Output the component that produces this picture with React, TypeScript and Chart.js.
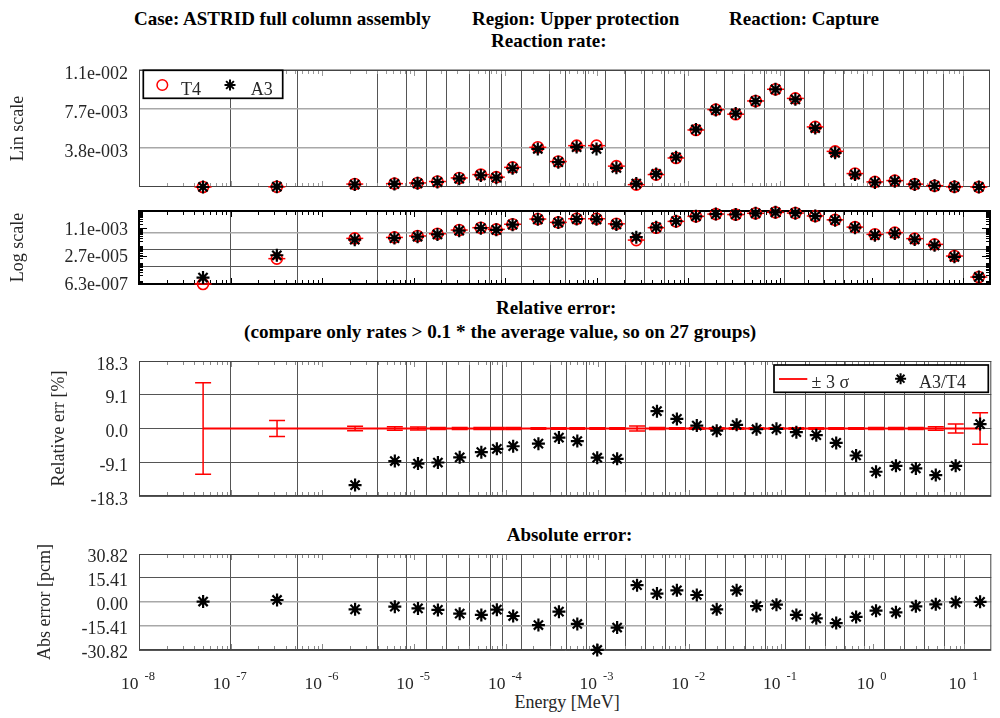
import React, { useEffect, useRef } from "react";
import { Chart, registerables } from "chart.js";
Chart.register(...registerables);

const FONT = "'Liberation Serif', 'Times New Roman', serif";

// ECCO-33 group boundaries (MeV), inner edges -> vertical grid lines
const GROUP_BOUNDS = [
  1e-7, 5.4e-7, 4e-6, 8.315287e-6, 1.370959e-5, 2.260329e-5, 4.0169e-5, 6.790405e-5,
  9.166088e-5, 1.486254e-4, 3.043248e-4, 4.539993e-4, 7.485183e-4, 1.234098e-3,
  2.034684e-3, 3.354626e-3, 5.530844e-3, 9.11882e-3, 1.503439e-2, 2.478752e-2,
  4.086771e-2, 6.737947e-2, 1.1109e-1, 1.831564e-1, 3.019738e-1, 4.978707e-1,
  8.2085e-1, 1.353353, 2.231302, 3.678794, 6.065307, 10,
];
const X_MIN = 1e-8;
const X_MAX = 19.64033;

// group mid energies (MeV)
const ENERGY = [
  5.0005e-8, 3.2e-7, 2.27e-6, 6.158e-6, 1.1012e-5, 1.8156e-5, 3.1386e-5, 5.4037e-5,
  7.978e-5, 1.2014e-4, 2.2648e-4, 3.7916e-4, 6.0126e-4, 9.913e-4, 1.6344e-3, 2.6947e-3,
  4.4427e-3, 7.3248e-3, 1.2077e-2, 1.9911e-2, 3.2828e-2, 5.4124e-2, 8.9234e-2, 1.4712e-1,
  2.4257e-1, 3.9992e-1, 6.5936e-1, 1.0871, 1.7923, 2.955, 4.8721, 8.0327, 14.82,
];

const RATE_T4 = [
  6.3e-7, 1.9e-5, 2.9e-4, 3.3e-4, 4.0e-4, 5.4e-4, 8.9e-4, 1.22e-3,
  9.7e-4, 1.93e-3, 3.9e-3, 2.5e-3, 4.06e-3, 4.06e-3, 2.05e-3, 2.3e-4,
  1.22e-3, 2.85e-3, 5.6e-3, 7.6e-3, 7.15e-3, 8.45e-3, 9.6e-3, 8.7e-3,
  5.9e-3, 3.5e-3, 1.32e-3, 5.0e-4, 6.3e-4, 2.8e-4, 1.3e-4, 2.7e-5, 1.6e-6,
];
const RATE_A3 = [
  1.5e-6, 3.0e-5, 2.45e-4, 3.0e-4, 3.62e-4, 4.9e-4, 8.2e-4, 1.14e-3,
  9.17e-4, 1.84e-3, 3.74e-3, 2.44e-3, 3.92e-3, 3.74e-3, 1.88e-3, 3.4e-4,
  1.28e-3, 2.92e-3, 5.65e-3, 7.55e-3, 7.22e-3, 8.43e-3, 9.59e-3, 8.61e-3,
  5.79e-3, 3.36e-3, 1.22e-3, 4.42e-4, 5.66e-4, 2.5e-4, 1.14e-4, 2.43e-5, 1.62e-6,
];
// A3/T4 relative error [%] (null = group not compared)
const REL_ERR = [
  null, null, -15.3, -8.8, -9.5, -9.2, -7.8, -6.4,
  -5.5, -4.8, -4.1, -2.45, -3.4, -7.9, -8.2, null,
  4.7, 2.6, 0.8, -0.6, 1.0, -0.2, -0.1, -1.0,
  -1.8, -3.9, -7.3, -11.7, -10.1, -10.8, -12.6, -10.1, 1.2,
];
// +/- 3 sigma [%]
const SIGMA3 = [
  12.35, 2.15, 0.6, 0.5, 0.4, 0.3, 0.3, 0.3,
  0.3, 0.3, 0.2, 0.2, 0.2, 0.2, 0.2, 0.7,
  0.3, 0.2, 0.2, 0.2, 0.2, 0.2, 0.2, 0.2,
  0.2, 0.2, 0.2, 0.3, 0.3, 0.3, 0.5, 1.25, 4.25,
];
// absolute error [pcm]
const ABS_ERR = [
  0.3, 1.3, -4.7, -3.0, -4.1, -5.1, -7.5, -8.3,
  -4.9, -9.0, -14.8, -6.2, -14.1, -30.8, -16.4, 10.8,
  5.4, 7.5, 4.5, -4.7, 7.5, -2.6, -1.7, -8.3,
  -10.5, -13.5, -9.6, -5.6, -6.6, -2.8, -1.5, -0.2, 0.1,
];

const LIN_TICKS = [3.83e-3, 7.66e-3, 1.149e-2];
const LIN_LABELS = ["3.8e-003", "7.7e-003", "1.1e-002"];
const LOG_TICKS = [6.3e-7, 2.7e-5, 1.1e-3];
const LOG_LABELS = ["6.3e-007", "2.7e-005", "1.1e-003"];
const LOG_GRID = [6.3e-6, 6.3e-5, 6.3e-4];
const REL_TICKS = [-18.26, -9.13, 0, 9.13, 18.26];
const REL_LABELS = ["-18.3", "-9.1", "0.0", "9.1", "18.3"];
const ABS_TICKS = [-30.82, -15.41, 0, 15.41, 30.82];
const ABS_LABELS = ["-30.82", "-15.41", "0.00", "15.41", "30.82"];
const DECADE_EXP = [-8, -7, -6, -5, -4, -3, -2, -1, 0, 1];

const PLOT_L = 139;
const RED = "#ff0000";
const TXT = "#262626";
const DARK_GRID = "#555555";
const LIGHT_GRID = "#a8a8a8";

function pts(vals: (number | null)[]) {
  const out: { x: number; y: number }[] = [];
  vals.forEach((v, i) => {
    if (v !== null && v !== undefined) out.push({ x: ENERGY[i], y: v });
  });
  return out;
}

function drawStar(ctx: CanvasRenderingContext2D, x: number, y: number, r: number) {
  ctx.beginPath();
  ctx.moveTo(x - r, y); ctx.lineTo(x + r, y);
  ctx.moveTo(x, y - r); ctx.lineTo(x, y + r);
  const d = r * Math.SQRT1_2;
  ctx.moveTo(x - d, y - d); ctx.lineTo(x + d, y + d);
  ctx.moveTo(x - d, y + d); ctx.lineTo(x + d, y - d);
  ctx.stroke();
}

const framePlugin = {
  id: "frame",
  beforeDatasetsDraw(chart: any, _a: any, opts: any) {
    const { ctx, chartArea: a } = chart;
    const xs = chart.scales.x;
    ctx.save();
    ctx.strokeStyle = opts.tickColor || "#777";
    ctx.lineWidth = 1;
    ctx.beginPath();
    DECADE_EXP.forEach((e) => {
      for (let k = 1; k <= 9; k++) {
        const v = k * Math.pow(10, e);
        if (v < X_MIN || v > X_MAX) continue;
        const px = Math.round(xs.getPixelForValue(v)) + 0.5;
        const len = k === 1 ? 6 : 4;
        ctx.moveTo(px, a.top); ctx.lineTo(px, a.top + len);
        ctx.moveTo(px, a.bottom); ctx.lineTo(px, a.bottom - len);
      }
    });
    ctx.stroke();
    if (opts.yMinor) {
      const ys = chart.scales.y;
      ctx.strokeStyle = "#000";
      ctx.beginPath();
      for (let e = -7; e <= -2; e++) {
        for (let k = 1; k <= 9; k++) {
          const v = k * Math.pow(10, e);
          if (v < ys.min || v > ys.max) continue;
          const py = Math.round(ys.getPixelForValue(v)) + 0.5;
          const len = 4;
          ctx.moveTo(a.left, py); ctx.lineTo(a.left + len, py);
          ctx.moveTo(a.right, py); ctx.lineTo(a.right - len, py);
        }
      }
      (opts.yMajor || []).forEach((v: number) => {
        const py = Math.round(ys.getPixelForValue(v)) + 0.5;
        ctx.moveTo(a.left, py); ctx.lineTo(a.left + 8, py);
        ctx.moveTo(a.right, py); ctx.lineTo(a.right - 8, py);
      });
      ctx.stroke();
    }
    ctx.strokeStyle = opts.color || "#333";
    ctx.lineWidth = opts.width || 1;
    const o = (opts.width || 1) % 2 ? 0.5 : 0;
    ctx.strokeRect(a.left + o, a.top + o, a.right - a.left - 2 * o, a.bottom - a.top - 2 * o);
    ctx.restore();
  },
};

const errorBarPlugin = {
  id: "errorBars",
  beforeDatasetsDraw(chart: any) {
    const { ctx } = chart;
    const xs = chart.scales.x;
    const ys = chart.scales.y;
    const y0 = ys.getPixelForValue(0);
    ctx.save();
    ctx.strokeStyle = RED;
    ctx.lineWidth = 1.8;
    ctx.beginPath();
    ENERGY.forEach((e, i) => {
      const x = xs.getPixelForValue(e);
      if (i === 0) ctx.moveTo(x, y0); else ctx.lineTo(x, y0);
    });
    ctx.stroke();
    ctx.lineWidth = 1.5;
    ctx.beginPath();
    ENERGY.forEach((e, i) => {
      const x = xs.getPixelForValue(e);
      const yt = ys.getPixelForValue(SIGMA3[i]);
      const yb = ys.getPixelForValue(-SIGMA3[i]);
      ctx.moveTo(x, yt); ctx.lineTo(x, yb);
      ctx.moveTo(x - 8, yt); ctx.lineTo(x + 8, yt);
      ctx.moveTo(x - 8, yb); ctx.lineTo(x + 8, yb);
    });
    ctx.stroke();
    ctx.restore();
  },
};

const rateLegend = {
  id: "rateLegend",
  afterDraw(chart: any) {
    const { ctx, chartArea: a } = chart;
    const L = a.left, T = a.top;
    ctx.save();
    ctx.fillStyle = "#fff";
    ctx.fillRect(L + 4.3, T + 0.3, 139.4, 28);
    ctx.strokeStyle = "#000";
    ctx.lineWidth = 1.7;
    ctx.strokeRect(L + 4.3, T + 0.3, 139.4, 28);
    ctx.strokeStyle = RED;
    ctx.lineWidth = 1.5;
    ctx.beginPath();
    ctx.arc(L + 23.3, T + 15, 5.3, 0, Math.PI * 2);
    ctx.stroke();
    ctx.strokeStyle = "#000";
    ctx.lineWidth = 2;
    drawStar(ctx, L + 91, T + 15, 5.5);
    ctx.fillStyle = TXT;
    ctx.font = `18px ${FONT}`;
    ctx.textBaseline = "alphabetic";
    ctx.fillText("T4", L + 42, T + 25);
    ctx.fillText("A3", L + 111.7, T + 25);
    ctx.restore();
  },
};

const relLegend = {
  id: "relLegend",
  afterDraw(chart: any) {
    const { ctx, chartArea: a } = chart;
    const R = a.right, T = a.top;
    ctx.save();
    ctx.fillStyle = "#fff";
    ctx.fillRect(R - 217.3, T + 4, 214.3, 27.3);
    ctx.strokeStyle = "#000";
    ctx.lineWidth = 1.7;
    ctx.strokeRect(R - 217.3, T + 4, 214.3, 27.3);
    ctx.strokeStyle = RED;
    ctx.lineWidth = 1.8;
    ctx.beginPath();
    ctx.moveTo(R - 212.3, T + 18); ctx.lineTo(R - 184, T + 18);
    ctx.stroke();
    ctx.strokeStyle = "#000";
    ctx.lineWidth = 2;
    drawStar(ctx, R - 90.7, T + 17.7, 5.5);
    ctx.fillStyle = TXT;
    ctx.font = `18px ${FONT}`;
    ctx.textBaseline = "alphabetic";
    ctx.fillText("\u00b1 3 \u03c3", R - 179.7, T + 26.7);
    ctx.fillText("A3/T4", R - 72.3, T + 26.7);
    ctx.restore();
  },
};

const decadeLabels = {
  id: "decadeLabels",
  afterDraw(chart: any) {
    const { ctx, chartArea: a } = chart;
    const xs = chart.scales.x;
    ctx.save();
    ctx.fillStyle = TXT;
    ctx.textBaseline = "alphabetic";
    DECADE_EXP.forEach((e) => {
      const px = xs.getPixelForValue(Math.pow(10, e));
      ctx.font = `17.5px ${FONT}`;
      const wb = ctx.measureText("10").width;
      ctx.font = `12.5px ${FONT}`;
      const sup = String(e);
      const ws = ctx.measureText(sup).width;
      const gap = 6;
      const x0 = px - 1 - (wb + gap + ws) / 2;
      ctx.font = `17.5px ${FONT}`;
      ctx.fillText("10", x0, a.bottom + 39);
      ctx.font = `12.5px ${FONT}`;
      ctx.fillText(sup, x0 + wb + gap, a.bottom + 30);
    });
    ctx.restore();
  },
};

function xScale() {
  return {
    type: "logarithmic",
    min: X_MIN,
    max: X_MAX,
    position: "bottom",
    afterBuildTicks: (s: any) => {
      s.ticks = GROUP_BOUNDS.map((v) => ({ value: v }));
    },
    afterFit: (s: any) => {
      s.height = 0;
      s.paddingLeft = 0;
      s.paddingRight = 0;
    },
    ticks: { display: false },
    grid: { color: DARK_GRID, lineWidth: 1, drawTicks: false },
    border: { display: false },
  };
}

type TickItem = { v: number; lab: string; grid: boolean };

function yScale(p: {
  type: string; min: number; max: number; ticks: number[]; labels: string[];
  gridOnly?: number[]; labelGrid: boolean;
  title: string; titlePad: number; labelOffset: number;
  gridStyle: (v: number) => [string, number];
}) {
  const all: TickItem[] = [
    ...p.ticks.map((v, i) => ({ v, lab: p.labels[i], grid: p.labelGrid })),
    ...(p.gridOnly || []).map((v) => ({ v, lab: "", grid: true })),
  ].sort((a, b) => a.v - b.v);
  return {
    type: p.type,
    min: p.min,
    max: p.max,
    position: "left",
    afterBuildTicks: (s: any) => {
      s.ticks = all.map((o) => ({ value: o.v }));
    },
    afterFit: (s: any) => {
      s.width = PLOT_L;
      s.paddingTop = 0;
      s.paddingBottom = 0;
    },
    ticks: {
      autoSkip: false,
      padding: 11,
      labelOffset: p.labelOffset,
      color: TXT,
      font: { family: FONT, size: 18 },
      callback: (_v: any, i: number) => all[i].lab,
    },
    grid: {
      drawTicks: false,
      color: (c: any) => (all[c.index] && all[c.index].grid ? p.gridStyle(all[c.index].v)[0] : "rgba(0,0,0,0)"),
      lineWidth: (c: any) => (all[c.index] ? p.gridStyle(all[c.index].v)[1] : 1),
    },
    border: { display: false },
    title: {
      display: true,
      text: p.title,
      color: TXT,
      font: { family: FONT, size: 18 },
      padding: { top: p.titlePad, bottom: 0 },
    },
  };
}

const starSet = (data: any[]) => ({
  label: "A3",
  data,
  order: 0,
  clip: false,
  pointStyle: "star",
  pointRadius: 6.5,
  pointBorderWidth: 2.2,
  pointBorderColor: "#000",
  pointBackgroundColor: "#000",
});

function rateSets() {
  return [
    starSet(pts(RATE_A3)),
    {
      label: "T4dash",
      data: pts(RATE_T4),
      order: 1,
      clip: false,
      pointStyle: "line",
      pointRadius: 8.5,
      pointBorderWidth: 1.5,
      pointBorderColor: RED,
      pointBackgroundColor: RED,
    },
    {
      label: "T4",
      data: pts(RATE_T4),
      order: 2,
      clip: false,
      pointStyle: "circle",
      pointRadius: 5.5,
      pointBorderWidth: 1.6,
      pointBorderColor: RED,
      pointBackgroundColor: "rgba(0,0,0,0)",
    },
  ];
}

function baseConfig(datasets: any[], y: any, pad: { top: number; bottom: number }, plugins: any[], frame: any) {
  return {
    type: "scatter",
    data: { datasets },
    options: {
      responsive: false,
      maintainAspectRatio: false,
      animation: false,
      events: [],
      layout: { padding: { left: 0, right: 1, top: pad.top, bottom: pad.bottom } },
      scales: { x: xScale(), y },
      plugins: {
        legend: { display: false },
        tooltip: { enabled: false },
        title: { display: false },
        frame,
      },
    },
    plugins: [framePlugin, ...plugins],
  } as any;
}

const Txt = (p: { x: number; base: number; size: number; bold?: boolean; children: any }) => (
  <div
    style={{
      position: "absolute",
      left: p.x,
      top: p.base - 0.8375 * p.size,
      font: `${p.bold ? "bold " : ""}${p.size}px ${FONT}`,
      lineHeight: `${p.size}px`,
      whiteSpace: "pre",
      color: p.bold ? "#000" : TXT,
    }}
  >
    {p.children}
  </div>
);

export default function App() {
  const c1 = useRef<HTMLCanvasElement>(null);
  const c2 = useRef<HTMLCanvasElement>(null);
  const c3 = useRef<HTMLCanvasElement>(null);
  const c4 = useRef<HTMLCanvasElement>(null);

  useEffect(() => {
    Chart.defaults.font.family = FONT;
    const lin = new Chart(
      c1.current!,
      baseConfig(
        rateSets(),
        yScale({
          type: "linear", min: 0, max: 1.149e-2, ticks: LIN_TICKS, labels: LIN_LABELS, labelGrid: true,
          title: "Lin scale", titlePad: 7.5, labelOffset: 4,
          gridStyle: () => [LIGHT_GRID, 1.5],
        }),
        { top: 20, bottom: 23 },
        [rateLegend],
        { color: "#444", width: 1, tickColor: "#999" }
      )
    );
    const log = new Chart(
      c2.current!,
      baseConfig(
        rateSets(),
        yScale({
          type: "logarithmic", min: 6.3e-7, max: 1.149e-2, ticks: LOG_TICKS, labels: LOG_LABELS,
          gridOnly: LOG_GRID, labelGrid: false,
          title: "Log scale", titlePad: 7.5, labelOffset: 1.5,
          gridStyle: (v) => (v > 1e-4 ? [LIGHT_GRID, 1.5] : [DARK_GRID, 1]),
        }),
        { top: 16, bottom: 16 },
        [],
        { color: "#000", width: 2, tickColor: "#000", yMinor: true, yMajor: LOG_TICKS }
      )
    );
    const rel = new Chart(
      c3.current!,
      baseConfig(
        [starSet(pts(REL_ERR))],
        yScale({
          type: "linear", min: -18.26, max: 18.26, ticks: REL_TICKS, labels: REL_LABELS, labelGrid: true,
          title: "Relative err [%]", titlePad: 48, labelOffset: 4,
          gridStyle: () => [DARK_GRID, 1],
        }),
        { top: 16, bottom: 19 },
        [errorBarPlugin, relLegend],
        { color: "#444", width: 1, tickColor: "#888" }
      )
    );
    const abs = new Chart(
      c4.current!,
      baseConfig(
        [starSet(pts(ABS_ERR))],
        yScale({
          type: "linear", min: -30.82, max: 30.82, ticks: ABS_TICKS, labels: ABS_LABELS, labelGrid: true,
          title: "Abs error [pcm]", titlePad: 34.7, labelOffset: 3.5,
          gridStyle: (v) => (v < 1 && v > -20 ? [LIGHT_GRID, 1.5] : [DARK_GRID, 1]),
        }),
        { top: 19, bottom: 68 },
        [decadeLabels],
        { color: "#444", width: 1, tickColor: "#888" }
      )
    );
    return () => {
      lin.destroy();
      log.destroy();
      rel.destroy();
      abs.destroy();
    };
  }, []);

  const cv = (top: number, h: number) => ({
    position: "absolute" as const,
    left: 0,
    top,
    width: 1000,
    height: h,
  });

  return (
    <div style={{ position: "absolute", left: 0, top: 0, width: 1000, height: 718, background: "#fff", overflow: "hidden" }}>
      <Txt x={134} base={25} size={19} bold>Case: ASTRID full column assembly</Txt>
      <Txt x={472} base={25} size={19} bold>Region: Upper protection</Txt>
      <Txt x={729} base={25} size={19} bold>Reaction: Capture</Txt>
      <Txt x={491} base={46.5} size={19} bold>Reaction rate:</Txt>
      <Txt x={496} base={314} size={19} bold>Relative error:</Txt>
      <Txt x={244} base={338} size={19.2} bold>(compare only rates &gt; 0.1 * the average value, so on 27 groups)</Txt>
      <Txt x={506.7} base={541} size={19} bold>Absolute error:</Txt>
      <Txt x={514.5} base={708} size={18}>Energy [MeV]</Txt>
      <canvas ref={c1} width={1000} height={160} style={cv(50, 160)} />
      <canvas ref={c2} width={1000} height={105} style={cv(195, 105)} />
      <canvas ref={c3} width={1000} height={170} style={cv(345, 170)} />
      <canvas ref={c4} width={1000} height={183} style={cv(535, 183)} />
    </div>
  );
}
